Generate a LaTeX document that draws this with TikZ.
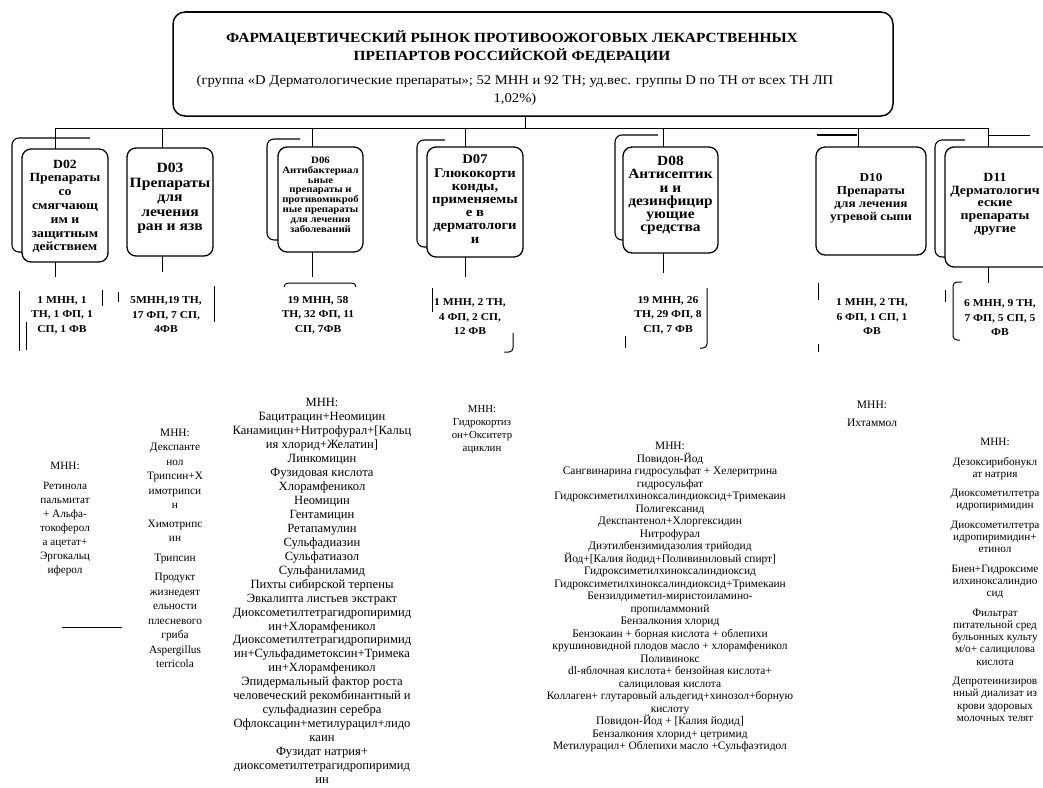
\documentclass[tikz,border=0pt]{standalone}
\usepackage{fontspec}
\setmainfont{Liberation Serif}[FakeStretch=1.1]
\newfontfamily\plainserif{Liberation Serif}
\begin{document}
\begin{tikzpicture}[x=1pt,y=-1pt,
  every node/.style={inner sep=0pt, outer sep=0pt},
  topbox/.style={draw, line width=1.5pt, rounded corners=12pt, minimum width=720pt, minimum height=104pt},
  catbox/.style={draw, line width=1.3pt, rounded corners=9pt, fill=white},
  boxtxt/.style={align=center},
  backfr/.style={line width=1.1pt, rounded corners=7pt},
  link/.style={line width=1pt},
  brk/.style={line width=1pt, rounded corners=4pt},
  stat/.style={align=center, font=\bfseries\fontsize{10.5}{14.5}\selectfont},
  lst/.style={align=center},
]
\useasboundingbox[fill=white] (0,0) rectangle (1043,787);

% top box
\node[topbox] (top) at (533,64) {};
\draw[line width=2.6pt] ([xshift=12pt]top.north west) -- ([xshift=-12pt]top.north east);
\node[align=center, font=\bfseries\fontsize{14}{18.5}\selectfont] (title) at (512,47)
  {ФАРМАЦЕВТИЧЕСКИЙ РЫНОК ПРОТИВООЖОГОВЫХ ЛЕКАРСТВЕННЫХ\\ПРЕПАРТОВ РОССИЙСКОЙ ФЕДЕРАЦИИ};
\node[align=center, font=\fontsize{13.3}{18}\selectfont] (sub) at (515,90)
  {(группа «D Дерматологические препараты»; 52 МНН и 92 ТН; уд.вес. группы D по ТН от всех ТН ЛП\\1,02\%)};

% bus coordinates
\coordinate (jt) at (525,128);
\coordinate (j02) at (55,128);
\coordinate (j03) at (162,128);
\coordinate (j06) at (312,128);
\coordinate (j07) at (465,128);
\coordinate (j08) at (663,128);
\coordinate (j10) at (858,128);
\coordinate (j11) at (988,128);
\coordinate (h11) at (1030,135);

% back frames
\draw[backfr] (22,252) -- (12,252) -- (12,138) -- (90,138);
\draw[backfr] (278,240) -- (267,240) -- (267,139) -- (300,139);
\draw[backfr] (427,247) -- (417,247) -- (417,140) -- (445,140);
\draw[backfr] (623,240) -- (615,240) -- (615,135) -- (658,135);
\draw[backfr] (817,135) -- (857,135);
\draw[backfr] (945,257) -- (935,257) -- (935,140) -- (965,140);

% category boxes
\node[catbox, minimum width=86pt, minimum height=113pt] (d02) at (65,205.5) {};
\node[catbox, minimum width=86pt, minimum height=108pt] (d03) at (170,202) {};
\node[catbox, minimum width=85pt, minimum height=105pt] (d06) at (320.5,199.5) {};
\node[catbox, minimum width=96pt, minimum height=110pt] (d07) at (475,202) {};
\node[catbox, minimum width=95pt, minimum height=106pt] (d08) at (670.5,200) {};
\node[catbox, minimum width=110pt, minimum height=108pt] (d10) at (871,201) {};
\node[catbox, minimum width=108pt, minimum height=120pt] (d11) at (999,207) {};

\node[boxtxt, font=\bfseries\fontsize{12.5}{13.8}\selectfont] (t02) at ([yshift=-1pt]d02.center)
  {D02\\Препараты\\со\\смягчающ\\им и\\защитным\\действием};
\node[boxtxt, font=\bfseries\fontsize{14.2}{14.5}\selectfont] (t03) at ([yshift=3.5pt]d03.center)
  {D03\\Препараты\\для\\лечения\\ран и язв};
\node[boxtxt, font=\bfseries\fontsize{9.8}{9.8}\selectfont] (t06) at ([yshift=5pt]d06.center)
  {D06\\Антибактериал\\ьные\\препараты и\\противомикроб\\ные препараты\\для лечения\\заболеваний};
\node[boxtxt, font=\bfseries\fontsize{13.3}{13.2}\selectfont] (t07) at ([yshift=3pt]d07.center)
  {D07\\Глюкокорти\\конды,\\применяемы\\е в\\дерматологи\\и};
\node[boxtxt, font=\bfseries\fontsize{14}{13.3}\selectfont] (t08) at ([yshift=4.5pt]d08.center)
  {D08\\Антисептик\\и и\\дезинфицир\\ующие\\средства};
\node[boxtxt, font=\bfseries\fontsize{12}{13}\selectfont] (t10) at ([yshift=3pt]d10.center)
  {D10\\Препараты\\для лечения\\угревой сыпи};
\node[boxtxt, font=\bfseries\fontsize{12.6}{12.6}\selectfont] (t11) at (995,204)
  {D11\\Дерматологич\\еские\\препараты\\другие};

% connectors from top box to bus and drops
\draw[link] (jt |- top.south) -- (jt);
\draw[link] (j02) -- (j11);
\draw[link] (j02) -- (j02 |- d02.north);
\draw[link] (j03) -- (j03 |- d03.north);
\draw[link] (j06) -- (j06 |- d06.north);
\draw[link] (j07) -- (j07 |- d07.north);
\draw[link] (j08) -- (j08 |- d08.north);
\draw[link] (j10) -- (j10 |- d10.north);
\draw[link] (j11) -- (j11 |- d11.north);
\draw[link] (j11 |- h11) -- (h11);

% connector ends above the stats
\coordinate (k02) at (55,277);
\coordinate (k03) at (162,272);
\coordinate (k06) at (312,277);
\coordinate (k07) at (465,277);
\coordinate (k08) at (663,273);
\coordinate (k11) at (988,283);
\draw[link] (d02.south -| k02) -- (k02);
\draw[link] (d03.south -| k03) -- (k03);
\draw[link] (d06.south -| k06) -- (k06);
\draw[link] (d07.south -| k07) -- (k07);
\draw[link] (d08.south -| k08) -- (k08);
\draw[link] (d11.south -| k11) -- (k11);

% stats
\node[stat] (s02) at (62,315) {1 МНН, 1\\ТН, 1 ФП, 1\\СП, 1 ФВ};
\node[stat] (s03) at (166,315) {5МНН,19 ТН,\\17 ФП, 7 СП,\\4ФВ};
\node[stat] (s06) at (318,315) {19 МНН, 58\\ТН, 32 ФП, 11\\СП, 7ФВ};
\node[stat] (s07) at (470,317) {1 МНН, 2 ТН,\\4 ФП, 2 СП,\\12 ФВ};
\node[stat] (s08) at (668,315) {19 МНН, 26\\ТН, 29 ФП, 8\\СП, 7 ФВ};
\node[stat] (s10) at (872,317) {1 МНН, 2 ТН,\\6 ФП, 1 СП, 1\\ФВ};
\node[stat] (s11) at (1000,318) {6 МНН, 9 ТН,\\7 ФП, 5 СП, 5\\ФВ};

% stats brackets
\draw[brk] (19,291) -- (19,351);
\draw[brk] (26,322) -- (26,350);
\draw[brk] (102,290) -- (102,306);
\draw[brk] (118,292) -- (118,302);
\draw[brk] (214,286) -- (214,322);
\draw[brk] (284,287) -- (284,283) -- (356,283) -- (356,287);
\draw[brk] (432,288) -- (432,312);
\draw[brk] (513,333) -- (513,352) -- (504,352);
\draw[brk] (625,336) -- (625,348);
\draw[brk] (707,288) -- (707,348) -- (700,348);
\draw[brk] (818,283) -- (818,300);
\draw[brk] (818,344) -- (818,352);
\draw[brk] (945,290) -- (945,302);
\draw[brk] (962,282) -- (953,282) -- (953,340) -- (960,340);

% lists
\node[lst, font=\plainserif\fontsize{11.2}{14}\selectfont] (l02) at (65,519)
  {МНН:\\[6pt]Ретинола\\пальмитат\\+ Альфа-\\токоферол\\а ацетат+\\Эргокальц\\иферол};
\draw[link] (62,627) -- (122,627);
\node[lst, font=\plainserif\fontsize{11.3}{14.5}\selectfont] (l03) at (175,548.5)
  {МНН:\\Декспанте\\нол\\Трипсин+Х\\имотрипси\\н\\[4pt]Химотрипс\\ин\\[5pt]Трипсин\\[5pt]Продукт\\жизнедеят\\ельности\\плесневого\\гриба\\Aspergillus\\terricola};
\node[lst, font=\plainserif\fontsize{12.6}{13.95}\selectfont] (l06) at (322,591)
  {МНН:\\Бацитрацин+Неомицин\\Канамицин+Нитрофурал+[Кальц\\ия хлорид+Желатин]\\Линкомицин\\Фузидовая кислота\\Хлорамфеникол\\Неомицин\\Гентамицин\\Ретапамулин\\Сульфадиазин\\Сульфатиазол\\Сульфаниламид\\Пихты сибирской терпены\\Эвкалипта листьев экстракт\\Диоксометилтетрагидропиримид\\ин+Хлорамфеникол\\Диоксометилтетрагидропиримид\\ин+Сульфадиметоксин+Тримека\\ин+Хлорамфеникол\\Эпидермальный фактор роста\\человеческий рекомбинантный и\\сульфадиазин серебра\\Офлоксацин+метилурацил+лидо\\каин\\Фузидат натрия+\\диоксометилтетрагидропиримид\\ин};
\node[lst, font=\plainserif\fontsize{10.8}{13}\selectfont] (l07) at (482,429.5)
  {МНН:\\Гидрокортиз\\он+Окситетр\\ациклин};
\node[lst, font=\plainserif\fontsize{11.4}{12.5}\selectfont] (l08) at (670,597)
  {МНН:\\Повидон-Йод\\Сангвинарина гидросульфат + Хелеритрина\\гидросульфат\\Гидроксиметилхиноксалиндиоксид+Тримекаин\\Полигексанид\\Декспантенол+Хлоргексидин\\Нитрофурал\\Диэтилбензимидазолия трийодид\\Йод+[Калия йодид+Поливиниловый спирт]\\Гидроксиметилхиноксалиндиоксид\\Гидроксиметилхиноксалиндиоксид+Тримекаин\\Бензилдиметил-миристоиламино-\\пропиламмоний\\Бензалкония хлорид\\Бензокаин + борная кислота + облепихи\\крушиновидной плодов масло + хлорамфеникол\\Поливинокс\\dl-яблочная кислота+ бензойная кислота+\\салициловая кислота\\Коллаген+ глутаровый альдегид+хинозол+борную\\кислоту\\Повидон-Йод + [Калия йодид]\\Бензалкония хлорид+ цетримид\\Метилурацил+ Облепихи масло +Сульфаэтидол};
\node[lst, font=\plainserif\fontsize{11.5}{13}\selectfont] (l10) at (872,414)
  {МНН:\\[5pt]Ихтаммол};
\node[lst, font=\plainserif\fontsize{11.2}{12.3}\selectfont] (l11) at (995,580)
  {МНН:\\[7pt]Дезоксирибонукл\\ат натрия\\[7pt]Диоксометилтетра\\идропиримидин\\[7pt]Диоксометилтетра\\идропиримидин+\\етинол\\[7pt]Биен+Гидроксиме\\илхиноксалиндио\\сид\\[7pt]Фильтрат\\питательной сред\\бульонных культу\\м/о+ салицилова\\кислота\\[7pt]Депротеинизиров\\нный диализат из\\крови здоровых\\молочных телят};
\end{tikzpicture}
\end{document}
